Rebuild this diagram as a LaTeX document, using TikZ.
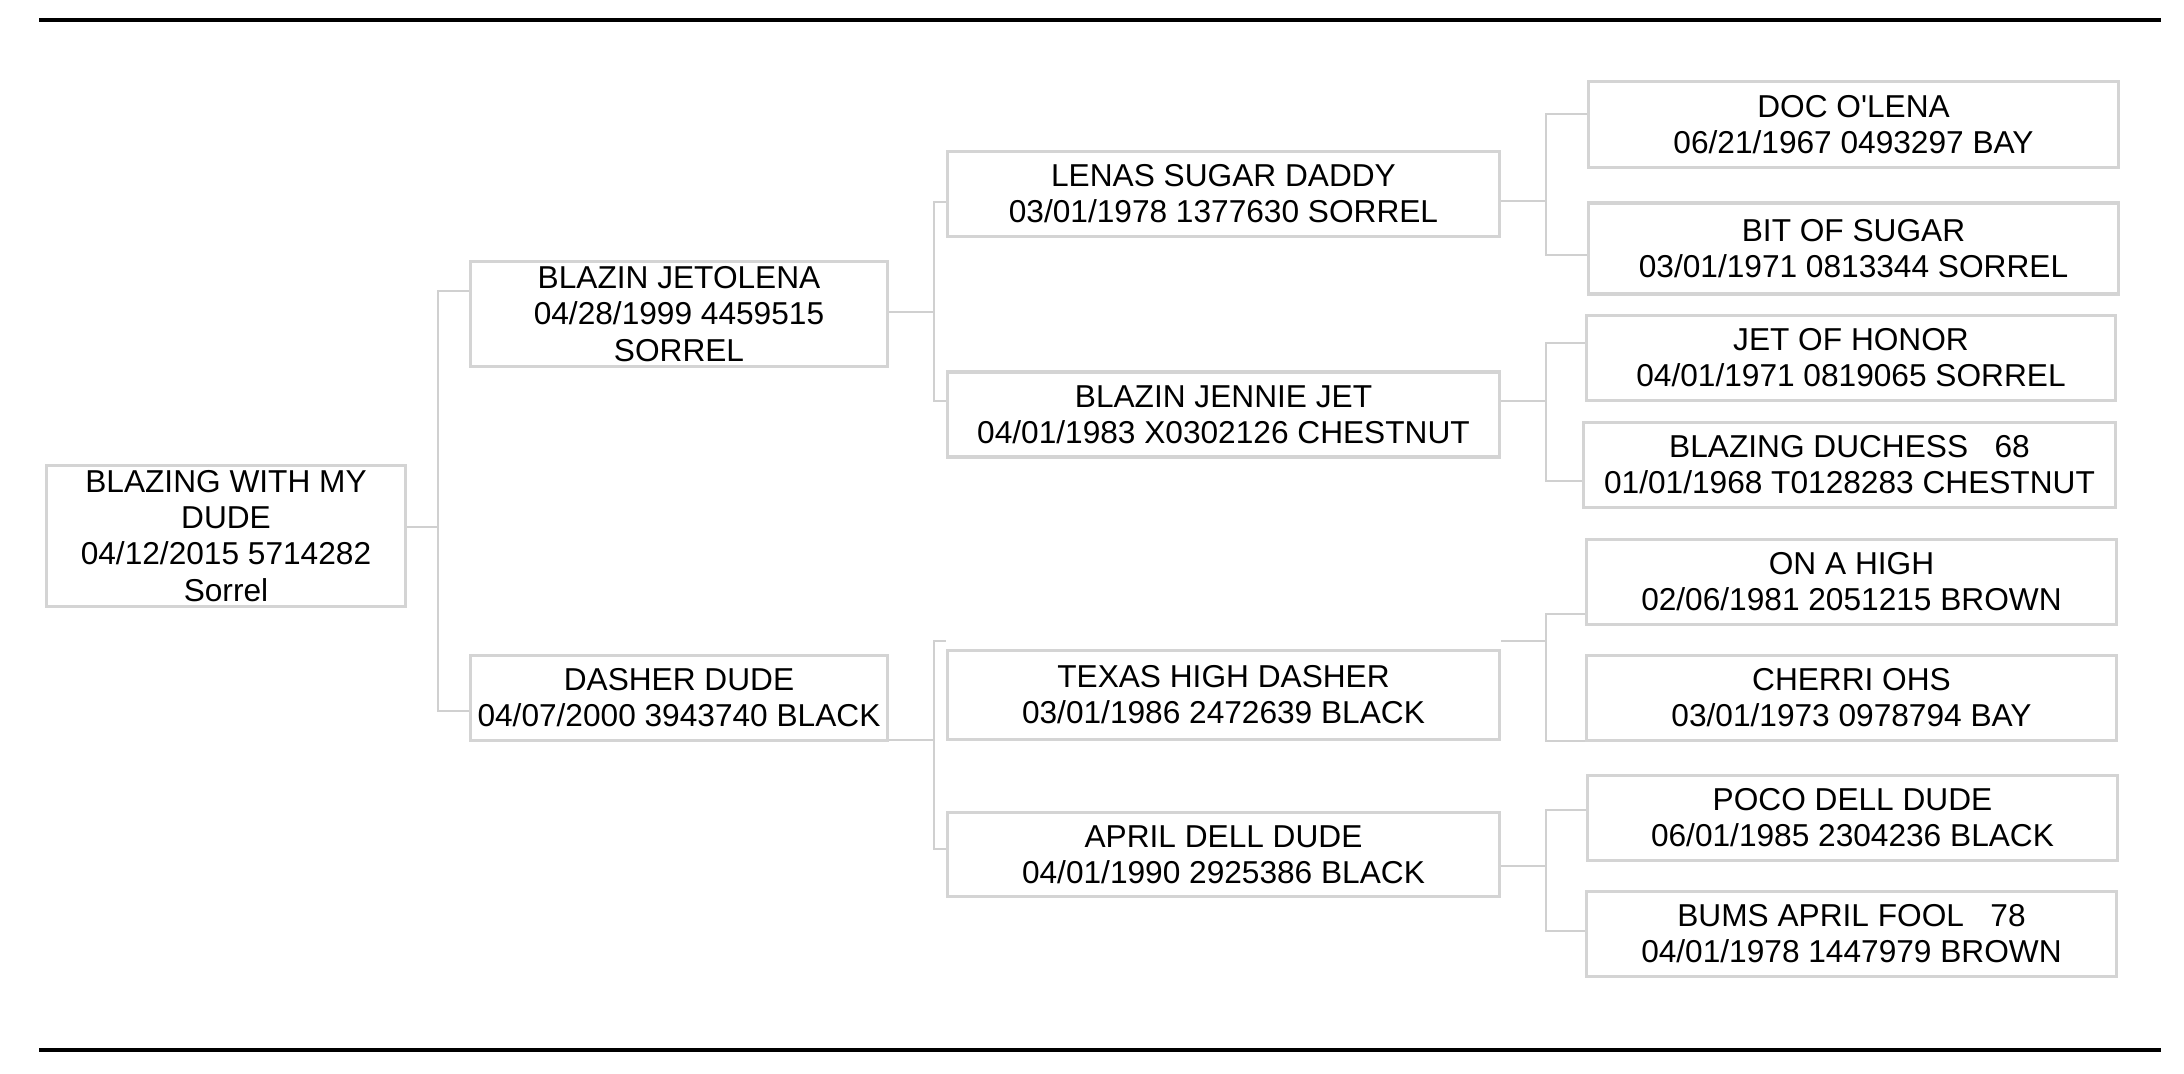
\documentclass[tikz,border=0pt]{standalone}
\usepackage{fontspec}
\setmainfont{Liberation Sans}
\usepackage{xcolor}
\usepackage{tikz}
\usetikzlibrary{positioning}
\definecolor{boxgray}{RGB}{212,212,212}
\definecolor{linkgray}{RGB}{208,208,208}

\begin{document}
\begin{tikzpicture}[x=0.01cm, y=-0.01cm,
    horse/.style={draw=boxgray, line width=0.032cm, align=center, inner sep=0pt,
        minimum height=0.85cm, font=\fontsize{9}{10.3}\selectfont},
    gen_1/.style={horse, minimum width=4.17cm},
    gen_2/.style={horse, minimum width=5.52cm},
    gen_3/.style={horse, minimum width=5.29cm},
    link/.style={draw=linkgray, line width=0.02cm}]
\useasboundingbox (0,0) rectangle (2184,1074);

\draw[line width=0.04cm] (39,20) -- (2161,20);
\draw[line width=0.04cm] (39,1050) -- (2161,1050);

\node[horse, minimum width=3.59cm, minimum height=1.41cm] (horse_0) at (226,536) {BLAZING WITH MY\\DUDE\\04/12/2015 5714282\\Sorrel};

\node[gen_1, minimum height=1.05cm] (horse_1) at (679,314) {BLAZIN JETOLENA\\04/28/1999 4459515\\SORREL};
\node[gen_1] (horse_2) at (679,698) {DASHER DUDE\\04/07/2000 3943740 BLACK};

\node[gen_2] (horse_3) at (1223.5,194) {LENAS SUGAR DADDY\\03/01/1978 1377630 SORREL};
\node[gen_2] (horse_4) at (1223.5,414.5) {BLAZIN JENNIE JET\\04/01/1983 X0302126 CHESTNUT};
\node[gen_2, minimum height=0.89cm] (horse_5) at (1223.5,695) {TEXAS HIGH DASHER\\03/01/1986 2472639 BLACK};
\node[gen_2, minimum height=0.84cm] (horse_6) at (1223.5,854.5) {APRIL DELL DUDE\\04/01/1990 2925386 BLACK};

\node[gen_3, minimum height=0.86cm] (horse_7) at (1853.5,124.5) {DOC O\textquotesingle LENA\\06/21/1967 0493297 BAY};
\node[gen_3, minimum height=0.91cm] (horse_8) at (1853.5,248.5) {BIT OF SUGAR\\03/01/1971 0813344 SORREL};
\node[gen_3] (horse_9) at (1851,358) {JET OF HONOR\\04/01/1971 0819065 SORREL};
\node[gen_3, minimum width=5.32cm] (horse_10) at (1849.5,465) {BLAZING DUCHESS\ \ \ 68\\01/01/1968 T0128283 CHESTNUT};
\node[gen_3] (horse_11) at (1851.5,582) {ON A HIGH\\02/06/1981 2051215 BROWN};
\node[gen_3] (horse_12) at (1851.5,698) {CHERRI OHS\\03/01/1973 0978794 BAY};
\node[gen_3] (horse_13) at (1852.5,818) {POCO DELL DUDE\\06/01/1985 2304236 BLACK};
\node[gen_3] (horse_14) at (1851.5,934) {BUMS APRIL FOOL\ \ \ 78\\04/01/1978 1447979 BROWN};

% forks between generations
\coordinate (fork_0_a) at (438,291);
\coordinate (fork_0_m) at (438,527);
\coordinate (fork_0_b) at (438,711);
\draw[link] (horse_0.east |- fork_0_m) -- (fork_0_m);
\draw[link] (horse_1.west |- fork_0_a) -- (fork_0_a) -- (fork_0_b) -- (horse_2.west |- fork_0_b);

\coordinate (fork_1_a) at (934,202.5);
\coordinate (fork_1_m) at (934,312);
\coordinate (fork_1_b) at (934,401);
\draw[link] (horse_1.east |- fork_1_m) -- (fork_1_m);
\draw[link] (horse_3.west |- fork_1_a) -- (fork_1_a) -- (fork_1_b) -- (horse_4.west |- fork_1_b);

\coordinate (fork_2_a) at (934,641);
\coordinate (fork_2_m) at (934,740.5);
\coordinate (fork_2_b) at (934,849);
\draw[link] (horse_2.east |- fork_2_m) -- (fork_2_m);
\draw[link] (horse_5.west |- fork_2_a) -- (fork_2_a) -- (fork_2_b) -- (horse_6.west |- fork_2_b);

\coordinate (fork_3_a) at (1546,114.5);
\coordinate (fork_3_m) at (1546,201.5);
\coordinate (fork_3_b) at (1546,255.5);
\draw[link] (horse_3.east |- fork_3_m) -- (fork_3_m);
\draw[link] (horse_7.west |- fork_3_a) -- (fork_3_a) -- (fork_3_b) -- (horse_8.west |- fork_3_b);

\coordinate (fork_4_a) at (1546,343.5);
\coordinate (fork_4_m) at (1546,401);
\coordinate (fork_4_b) at (1546,481.5);
\draw[link] (horse_4.east |- fork_4_m) -- (fork_4_m);
\draw[link] (horse_9.west |- fork_4_a) -- (fork_4_a) -- (fork_4_b) -- (horse_10.west |- fork_4_b);

\coordinate (fork_5_a) at (1546,614);
\coordinate (fork_5_m) at (1546,641);
\coordinate (fork_5_b) at (1546,741);
\draw[link] (horse_5.east |- fork_5_m) -- (fork_5_m);
\draw[link] (horse_11.west |- fork_5_a) -- (fork_5_a) -- (fork_5_b) -- (horse_12.west |- fork_5_b);

\coordinate (fork_6_a) at (1546,810.5);
\coordinate (fork_6_m) at (1546,866);
\coordinate (fork_6_b) at (1546,931);
\draw[link] (horse_6.east |- fork_6_m) -- (fork_6_m);
\draw[link] (horse_13.west |- fork_6_a) -- (fork_6_a) -- (fork_6_b) -- (horse_14.west |- fork_6_b);

\end{tikzpicture}
\end{document}
